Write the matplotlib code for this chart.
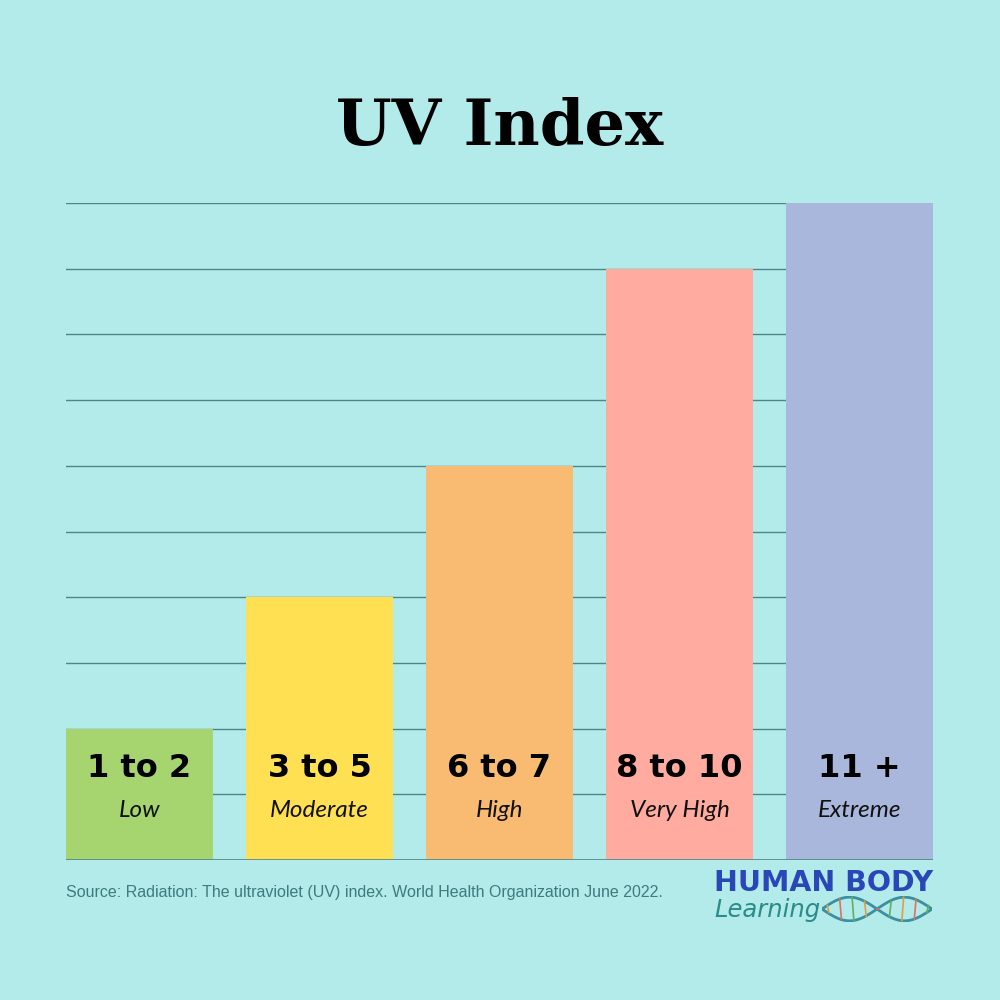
import numpy as np
import matplotlib
matplotlib.use("Agg")
import matplotlib.pyplot as plt

# Data
ranges = ["1 to 2", "3 to 5", "6 to 7", "8 to 10", "11 +"]
levels = ["Low", "Moderate", "High", "Very High", "Extreme"]
heights = [2, 4, 6, 9, 10]
colors = ["#a6d46f", "#ffe052", "#f9bb72", "#ffaba0", "#a9b7dc"]

bg = "#b3eaea"
fig = plt.figure(figsize=(10, 10), dpi=100, facecolor=bg)
ax = fig.add_axes([0.066, 0.14, 0.867, 0.657])
ax.set_facecolor(bg)

x = np.arange(len(ranges))
w = 0.8167
ax.set_xlim(-w / 2, len(ranges) - 1 + w / 2)
ax.set_ylim(0, 10)
for yv in range(1, 11):
    ax.axhline(yv, color="#4f8588", lw=1.0, zorder=1)
ax.bar(x, heights, width=w, color=colors, zorder=2)
ax.axhline(0, color="#4f8588", lw=1.2, zorder=2.5)

for xi, r, l in zip(x, ranges, levels):
    ax.text(xi, 1.40, r, ha="center", va="center", fontsize=23,
            fontweight="heavy", family="DejaVu Sans", color="black", zorder=3)
    ax.text(xi, 0.75, l, ha="center", va="center", fontsize=17.5,
            fontstyle="italic", family="Lato", color="#111111", zorder=3)

for s in ax.spines.values():
    s.set_visible(False)
ax.set_xticks([])
ax.set_yticks([])

fig.text(0.5, 0.873, "UV Index", ha="center", va="center", fontsize=46,
         fontweight="heavy", family="DejaVu Serif", color="black")

fig.text(0.066, 0.107, "Source: Radiation: The ultraviolet (UV) index. World Health Organization June 2022.",
         ha="left", va="center", fontsize=11.5, family="Liberation Sans", color="#3e7b7d")

fig.text(0.824, 0.117, "HUMAN BODY", ha="center", va="center", fontsize=20.5,
         fontweight="heavy", family="DejaVu Sans", color="#2a47b8")
fig.text(0.714, 0.090, "Learning", ha="left", va="center", fontsize=17.5,
         fontstyle="italic", family="DejaVu Sans", color="#2b8b8b")

# small DNA helix decoration
hax = fig.add_axes([0.822, 0.078, 0.11, 0.026])
hax.set_facecolor("none")
hax.axis("off")
t = np.linspace(0, 2 * np.pi, 100)
hax.plot(t, np.sin(t), color="#3a8fa0", lw=2)
hax.plot(t, -np.sin(t), color="#3a8fa0", lw=2)
for tk, c in zip(np.linspace(0.3, 2 * np.pi - 0.3, 9),
                 ["#e0a040", "#e07060", "#60b060", "#e0a040", "#e07060", "#60b060", "#e0a040", "#e07060", "#60b060"]):
    hax.plot([tk, tk + 0.1], [np.sin(tk), -np.sin(tk)], color=c, lw=1.2)
hax.set_xlim(0, 2 * np.pi)
hax.set_ylim(-1.1, 1.1)

fig.savefig("out.png", dpi=100, facecolor=bg)
